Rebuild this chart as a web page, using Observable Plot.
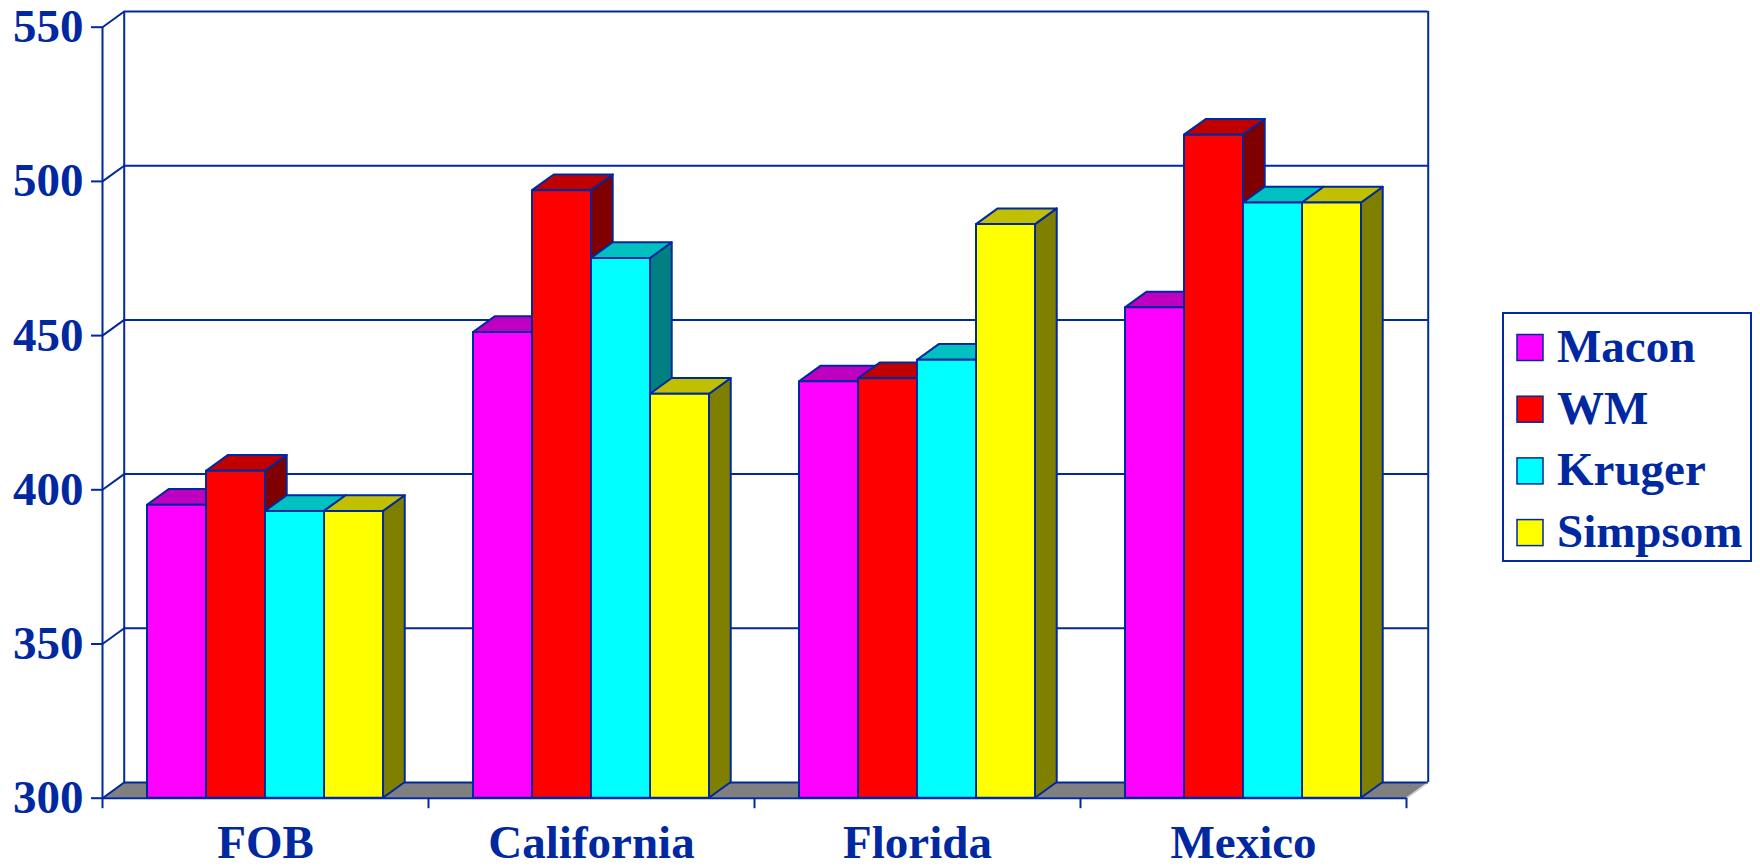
<!DOCTYPE html>
<html>
<head>
<meta charset="utf-8">
<script src="https://cdn.jsdelivr.net/npm/d3@7"></script>
<script src="https://cdn.jsdelivr.net/npm/@observablehq/plot@0.6"></script>
<style>
  html, body { margin: 0; padding: 0; background: white; }
  #chart { position: relative; width: 1760px; height: 868px; }
</style>
</head>
<body>
<div id="chart"></div>
<script>
// ---- data ----
const categories = ["FOB", "California", "Florida", "Mexico"];
const series = ["Macon", "WM", "Kruger", "Simpsom"];
const macon   = [395, 451, 435, 459];
const wm      = [406, 497, 436, 515];
const kruger  = [393, 475, 442, 493];
const simpsom = [393, 431, 486, 493];
const yTicks = [300, 350, 400, 450, 500, 550];

// ---- styles ----
const blue = "#0028a0";
const frontColors = ["#ff00ff", "#ff0000", "#00ffff", "#ffff00"];
const topColors   = ["#c000c0", "#c00000", "#00c0c0", "#c0c000"];
const sideColors  = ["#800080", "#800000", "#008080", "#808000"];
const font = "'Liberation Serif', 'Times New Roman', serif";

// geometry (in data units)
const BW = 0.181;                 // bar width as fraction of a category
const PAD = (1 - 4 * BW) / 2;     // outer padding in a category
const DX = 0.0666;                // depth offset along x
const DY = 5.09;                  // depth offset along y
const Y0 = 300, Y1 = 550, N = categories.length;

const values = [macon, wm, kruger, simpsom];
const bars = [];
categories.forEach((c, i) => {
  series.forEach((s, j) => {
    const x1 = i + PAD + j * BW;
    bars.push({id: c + "-" + s, cat: c, s, j, x1, x2: x1 + BW, v: values[j][i]});
  });
});
const sides = bars.flatMap(b => [
  {id: b.id, x: b.x2, y1: Y0, y2: b.v, fill: sideColors[b.j]},
  {id: b.id, x: b.x2 + DX, y1: Y0 + DY, y2: b.v + DY, fill: sideColors[b.j]}
]);
const tops = bars.flatMap(b => [
  {id: b.id, y: b.v, x1: b.x1, x2: b.x2, fill: topColors[b.j]},
  {id: b.id, y: b.v + DY, x1: b.x1 + DX, x2: b.x2 + DX, fill: topColors[b.j]}
]);
const floor = [
  {y: Y0, x1: 0, x2: N},
  {y: Y0 + DY, x1: DX, x2: N + DX}
];

const chart = Plot.plot({
  width: 1760,
  height: 868,
  marginLeft: 102,
  marginRight: 354,
  marginTop: 26.7,
  marginBottom: 70.3,
  x: {type: "linear", domain: [0, N]},
  y: {type: "linear", domain: [Y0, Y1]},
  color: {type: "identity"},
  style: {fontFamily: font, background: "white", color: blue, overflow: "visible"},
  marks: [
    // floor
    Plot.areaX(floor, {y: "y", x1: "x1", x2: "x2", fill: "#808080"}),
    Plot.link([0], {x1: N, y1: Y0, x2: N + DX, y2: Y0 + DY, stroke: "#c8c8d8", strokeWidth: 1.5}),
    // back wall gridlines
    Plot.ruleY(yTicks, {y: d => d + DY, x1: DX, x2: N + DX, stroke: blue, strokeWidth: 2}),
    // side wall diagonals
    Plot.link(yTicks, {x1: 0, y1: d => d, x2: DX, y2: d => d + DY, stroke: blue, strokeWidth: 2}),
    // back wall verticals
    Plot.ruleX([DX, N + DX], {y1: Y0 + DY, y2: Y1 + DY, stroke: blue, strokeWidth: 2}),
    // front left axis line
    Plot.ruleX([0], {y1: Y0, y2: Y1, stroke: blue, strokeWidth: 2}),
    // bar sides
    Plot.area(sides, {x1: "x", y1: "y1", y2: "y2", z: "id", fill: "fill", stroke: blue, strokeWidth: 2, strokeLinejoin: "round"}),
    // bar tops
    Plot.areaX(tops, {y: "y", x1: "x1", x2: "x2", z: "id", fill: "fill", stroke: blue, strokeWidth: 2, strokeLinejoin: "round"}),
    // bar fronts
    Plot.rect(bars, {x1: "x1", x2: "x2", y1: Y0, y2: "v", fill: d => frontColors[d.j], stroke: blue, strokeWidth: 2, strokeLinejoin: "round"}),
    // front bottom axis line
    Plot.ruleY([Y0], {x1: 0, x2: N, stroke: blue, strokeWidth: 2}),
    // axes
    Plot.axisY(yTicks, {tickSize: 11, tickPadding: 8, fontSize: 47, fontWeight: "bold", fill: blue, stroke: blue, strokeWidth: 2}),
    Plot.axisX(d3.range(N + 1), {tickSize: 10.5, tickFormat: () => "", stroke: blue, strokeWidth: 2}),
    Plot.axisX(categories.map((c, i) => i + 0.5), {tickSize: 0, tickPadding: 26, tickFormat: d => categories[Math.floor(d)], fontSize: 47, fontWeight: "bold", fill: blue})
  ]
});

const container = document.getElementById("chart");
container.appendChild(chart);

// legend overlay
const leg = d3.select(container).append("svg")
  .style("position", "absolute")
  .style("left", "1502px")
  .style("top", "312px")
  .attr("width", 252)
  .attr("height", 252)
  .style("font-family", font);
leg.append("rect").attr("x", 1).attr("y", 1).attr("width", 248).attr("height", 248)
  .attr("fill", "white").attr("stroke", blue).attr("stroke-width", 2);
series.forEach((s, i) => {
  leg.append("rect")
    .attr("x", 15).attr("y", 22.5 + 61.7 * i)
    .attr("width", 26).attr("height", 26)
    .attr("fill", frontColors[i]).attr("stroke", blue).attr("stroke-width", 1.5);
  leg.append("text")
    .attr("x", 55).attr("y", 50 + 61.7 * i)
    .attr("fill", blue)
    .attr("font-size", 47).attr("font-weight", "bold")
    .text(s);
});
</script>
</body>
</html>
